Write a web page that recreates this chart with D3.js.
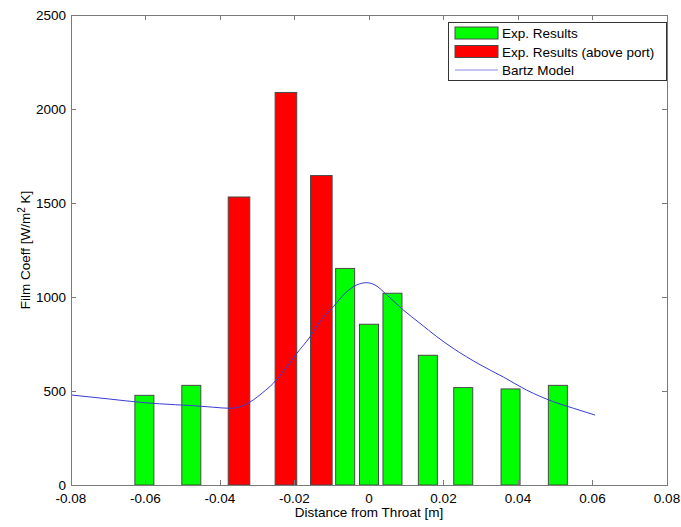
<!DOCTYPE html>
<html>
<head>
<meta charset="utf-8">
<script src="https://cdn.jsdelivr.net/npm/d3@7"></script>
<style>
  html, body { margin: 0; padding: 0; background: #fff; }
  svg { display: block; font-family: Arial, "Liberation Sans", sans-serif; }
</style>
</head>
<body>
<svg id="chart" width="681" height="527"></svg>
<script>
// Measured heat transfer film coefficients along the nozzle
const greenX = [-0.0603, -0.0477, -0.0064, 0.0000, 0.0063, 0.0158, 0.0253, 0.0380, 0.0507];
const greenY = [477, 530, 1152, 855, 1020, 690, 518, 511, 530];

// Stations located above the injection port
const redX = [-0.0349, -0.0223, -0.0128];
const redY = [1532, 2088, 1646];

// Bartz correlation prediction
const bartzX = [-0.0800, -0.0700, -0.0604, -0.0520, -0.0472, -0.0420, -0.0373, -0.0346, -0.0311, -0.0285, -0.0257,
  -0.0225, -0.0194, -0.0158, -0.0132, -0.0096, -0.0064, -0.0033, -0.0006, 0.0016, 0.0048, 0.0092,
  0.0137, 0.0182, 0.0226, 0.0298, 0.0361, 0.0423, 0.0495, 0.0549, 0.0607];
const bartzY = [479, 458, 438, 427, 422, 414, 408, 416, 452, 492, 541,
  618, 700, 789, 869, 948, 1020, 1064, 1076, 1064, 1011, 931,
  860, 789, 727, 640, 574, 505, 443, 408, 372];

const xTicks = [-0.08, -0.06, -0.04, -0.02, 0, 0.02, 0.04, 0.06, 0.08];
const xTickLabels = ["-0.08", "-0.06", "-0.04", "-0.02", "0", "0.02", "0.04", "0.06", "0.08"];
const yTicks = [0, 500, 1000, 1500, 2000, 2500];

const legendItems = ["Exp. Results", "Exp. Results (above port)", "Bartz Model"];

const svg = d3.select("#chart");
const plotL = 71, plotR = 667, plotT = 15, plotB = 485;
const axisColor = "#7a7a7a";

const x = d3.scaleLinear().domain([-0.08, 0.08]).range([plotL, plotR]);
const y = d3.scaleLinear().domain([0, 2500]).range([plotB, plotT]);

const greenW = 0.0051, redW = 0.0058;

const plot = svg.append("g");

// bars
plot.selectAll("rect.g").data(greenX).join("rect")
  .attr("class", "g")
  .attr("x", d => x(d - greenW / 2))
  .attr("width", x(greenW) - x(0))
  .attr("y", (d, i) => y(greenY[i]))
  .attr("height", (d, i) => y(0) - y(greenY[i]))
  .attr("fill", "#00ff00").attr("stroke", "#4a4a4a").attr("stroke-width", 1);

plot.selectAll("rect.r").data(redX).join("rect")
  .attr("class", "r")
  .attr("x", d => x(d - redW / 2))
  .attr("width", x(redW) - x(0))
  .attr("y", (d, i) => y(redY[i]))
  .attr("height", (d, i) => y(0) - y(redY[i]))
  .attr("fill", "#ff0000").attr("stroke", "#4a4a4a").attr("stroke-width", 1);

// model curve
const line = d3.line().x(d => x(d[0])).y(d => y(d[1])).curve(d3.curveMonotoneX);
plot.append("path")
  .datum(bartzX.map((v, i) => [v, bartzY[i]]))
  .attr("d", line)
  .attr("fill", "none").attr("stroke", "#3a3ad6").attr("stroke-width", 1);

// box and ticks
const tickLen = 5;
const axes = svg.append("g").attr("stroke", axisColor).attr("fill", "none").attr("shape-rendering", "crispEdges");
axes.append("rect").attr("x", plotL).attr("y", plotT).attr("width", plotR - plotL).attr("height", plotB - plotT);
xTicks.forEach(t => {
  axes.append("line").attr("x1", x(t)).attr("x2", x(t)).attr("y1", plotB).attr("y2", plotB - tickLen);
  axes.append("line").attr("x1", x(t)).attr("x2", x(t)).attr("y1", plotT).attr("y2", plotT + tickLen);
});
yTicks.forEach(t => {
  axes.append("line").attr("x1", plotL).attr("x2", plotL + tickLen).attr("y1", y(t)).attr("y2", y(t));
  axes.append("line").attr("x1", plotR).attr("x2", plotR - tickLen).attr("y1", y(t)).attr("y2", y(t));
});

// tick labels
const fs = 13.5;
svg.append("g").selectAll("text").data(xTicks).join("text")
  .attr("x", d => x(d)).attr("y", 503)
  .attr("text-anchor", "middle").attr("font-size", fs).attr("fill", "#000")
  .text((d, i) => xTickLabels[i]);

svg.append("g").selectAll("text").data(yTicks).join("text")
  .attr("x", 66).attr("y", d => y(d) + 4.5)
  .attr("text-anchor", "end").attr("font-size", fs).attr("fill", "#000")
  .text(d => d);

// axis titles
svg.append("text").attr("x", 369).attr("y", 517)
  .attr("text-anchor", "middle").attr("font-size", fs).attr("fill", "#000")
  .text("Distance from Throat [m]");

const yl = svg.append("text")
  .attr("transform", "translate(30,250) rotate(-90)")
  .attr("text-anchor", "middle").attr("font-size", fs).attr("fill", "#000");
yl.append("tspan").text("Film Coeff [W/m");
yl.append("tspan").attr("dy", -5).attr("font-size", 10).text("2");
yl.append("tspan").attr("dy", 5).text(" K]");

// legend
const lg = svg.append("g");
lg.append("rect").attr("x", 448).attr("y", 22).attr("width", 218).attr("height", 58)
  .attr("fill", "#fff").attr("stroke", "#333").attr("stroke-width", 1).attr("shape-rendering", "crispEdges");
const rowY = [33, 51.5, 70];
lg.append("rect").attr("x", 455).attr("y", rowY[0] - 6).attr("width", 43).attr("height", 12)
  .attr("fill", "#00ff00").attr("stroke", "#4a4a4a");
lg.append("rect").attr("x", 455).attr("y", rowY[1] - 6).attr("width", 43).attr("height", 12)
  .attr("fill", "#ff0000").attr("stroke", "#4a4a4a");
lg.append("line").attr("x1", 455).attr("x2", 498).attr("y1", rowY[2]).attr("y2", rowY[2])
  .attr("stroke", "#8888dd").attr("stroke-width", 1);
lg.selectAll("text").data(legendItems).join("text")
  .attr("x", 502).attr("y", (d, i) => rowY[i] + 5)
  .attr("font-size", fs).attr("fill", "#000").text(d => d);
</script>
</body>
</html>
